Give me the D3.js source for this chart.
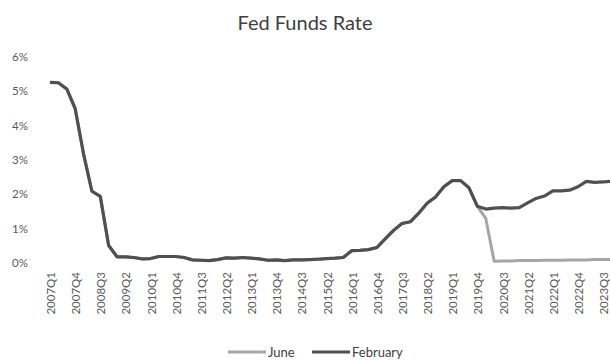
<!DOCTYPE html>
<html><head><meta charset="utf-8">
<script src="https://cdn.jsdelivr.net/npm/d3@7"></script>
<style>body{margin:0;background:#fff}svg{display:block}</style>
</head><body>
<svg id="c" width="610" height="360"></svg>
<script>
const quarters = [];
for (let y = 2007; y <= 2023; y++) for (let q = 1; q <= 4; q++) quarters.push(y + "Q" + q);

const historical = [5.26,5.25,5.07,4.50, 3.18,2.09,1.94,0.51, 0.18,0.18,0.16,0.12, 0.13,0.19,0.19,0.19,
  0.16,0.09,0.08,0.07, 0.10,0.15,0.14,0.16, 0.14,0.12,0.08,0.09, 0.07,0.09,0.09,0.10,
  0.11,0.13,0.14,0.16, 0.36,0.37,0.39,0.45, 0.70,0.95,1.15,1.20, 1.45,1.74,1.92,2.22,
  2.40,2.40,2.19,1.65];
const juneTail = [1.30,0.05,0.06,0.06, 0.07,0.07,0.07,0.08, 0.08,0.08,0.09,0.09, 0.09,0.10,0.10,0.10];
const februaryTail = [1.57,1.60,1.61,1.60, 1.61,1.75,1.88,1.95, 2.10,2.10,2.12,2.22, 2.38,2.35,2.36,2.38];
const juneValues = historical.concat(juneTail);
const februaryValues = historical.concat(februaryTail);
const yTicks = [0,1,2,3,4,5,6];
const labelQuarters = quarters.filter((d,i) => i % 3 === 0);

const svg = d3.select("#c");
const x = d3.scalePoint().domain(quarters).range([50, 50 + 67 * 8.38]);
const y = d3.scaleLinear().domain([0, 6]).range([263, 57]);

svg.append("text").attr("x", 305).attr("y", 30).attr("text-anchor", "middle")
  .attr("font-family", "Lato, 'Open Sans', sans-serif").attr("font-size", 20)
  .attr("fill", "#404040").text("Fed Funds Rate");

svg.append("g").selectAll("text").data(yTicks).join("text")
  .attr("x", 28).attr("y", d => y(d)).attr("dy", "0.35em").attr("text-anchor", "end")
  .attr("font-family", "Lato, 'Open Sans', sans-serif").attr("font-size", 11.5).attr("fill", "#595959")
  .text(d => d + "%");

svg.append("g").selectAll("text").data(labelQuarters).join("text")
  .attr("transform", d => `translate(${x(d) + 1},272) rotate(-90)`)
  .attr("dy", "0.35em").attr("text-anchor", "end")
  .attr("font-family", "Lato, 'Open Sans', sans-serif").attr("font-size", 11.5).attr("fill", "#595959")
  .text(d => d);

const line = d3.line().x((d,i) => x(quarters[i])).y(d => y(d));
svg.append("path").datum(juneValues).attr("d", line).attr("fill", "none")
  .attr("stroke", "#a6a6a6").attr("stroke-width", 3).attr("stroke-linejoin", "round");
svg.append("path").datum(februaryValues).attr("d", line).attr("fill", "none")
  .attr("stroke", "#505050").attr("stroke-width", 3.2).attr("stroke-linejoin", "round");

const legend = [{name: "June", color: "#a6a6a6", x: 228}, {name: "February", color: "#505050", x: 312}];
const lg = svg.append("g").selectAll("g").data(legend).join("g")
  .attr("transform", d => `translate(${d.x},352)`);
lg.append("line").attr("x1", 0).attr("x2", 38).attr("stroke", d => d.color).attr("stroke-width", 3);
lg.append("text").attr("x", 40).attr("dy", "0.35em")
  .attr("font-family", "Lato, 'Open Sans', sans-serif").attr("font-size", 13).attr("fill", "#404040")
  .text(d => d.name);
</script>
</body></html>
